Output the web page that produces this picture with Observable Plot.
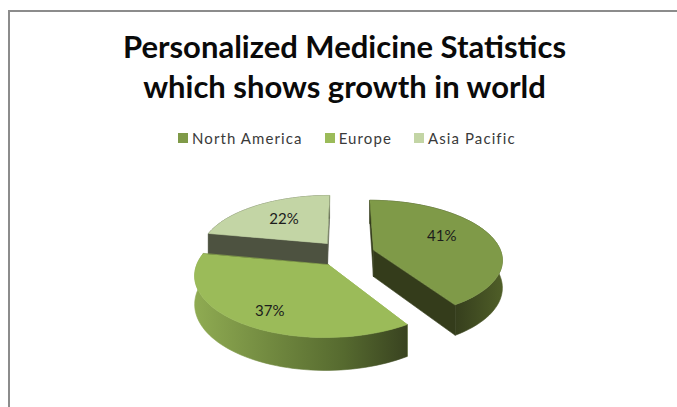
<!DOCTYPE html>
<html><head><meta charset="utf-8">
<script src="https://cdn.jsdelivr.net/npm/d3@7"></script>
<script src="https://cdn.jsdelivr.net/npm/@observablehq/plot@0.6"></script>
<style>
html,body{margin:0;padding:0;background:#fff;overflow:hidden;width:677px;height:407px}
#page{position:relative;width:677px;height:407px;overflow:hidden}
#frame{position:absolute;left:8px;top:10px;right:-4px;bottom:-4px;border-top:2px solid #8c8c8c;border-left:2px solid #8c8c8c;pointer-events:none}
#title{position:absolute;left:0;top:26px;width:689px;text-align:center;font:700 31px/40px Lato,sans-serif;color:#0a0a0a;white-space:pre}
#legend{position:absolute;left:178px;top:127px}
#chart{position:absolute;left:0;top:160px}
.lg-swatches-wrap{min-height:0 !important;margin:0 !important;flex-wrap:nowrap !important;font:15px/22px Lato,sans-serif !important;color:#3a3a3a;letter-spacing:1.1px;white-space:nowrap}
.lg-swatch{margin-right:22px !important}
.lg-swatch svg{margin-right:4px !important}
</style></head><body>
<div id="page"><div id="chart"></div><div id="title"></div><div id="legend"></div><div id="frame"></div></div>
<script>
const titleLines = ["Personalized Medicine Statistics", "which shows growth in world"];
const regions = ["North America", "Europe", "Asia Pacific"];
const shares = [41, 37, 22];
const topColors = ["#7f9a48", "#9bbb59", "#c3d5a5"];
const wallColors = ["#343c1b", "#9bbb59", "#4d5240"];

// layout of the tilted pie, in pixels of the SVG
const W = 677, H = 247;
const cx = 345, cy = 93, rx = 128, ry = 58, persp = 0.15, depth = 27, explode = 0.23, startAngle = 0;
const labelNudge = [[0, -5], [-11, 14], [-1, -1]];

const rad = d3.pie().sort(null).value(d => d).startAngle(startAngle * Math.PI / 180)
  .endAngle((startAngle + 360) * Math.PI / 180)(shares);

function project(u, v, down = 0) {
  const s = 1 / (1 - persp * v);
  return {x: cx + rx * u * s, y: cy + ry * v * s + down * s};
}
const slices = rad.map((a, i) => {
  const mid = (a.startAngle + a.endAngle) / 2;
  const ou = explode * Math.sin(mid), ov = -explode * Math.cos(mid);
  const pt = (t, r, down) => project(ou + r * Math.sin(t), ov - r * Math.cos(t), down);
  const angles = d3.range(0, 61).map(k => a.startAngle + (a.endAngle - a.startAngle) * k / 60);
  const top = [pt(0, 0, 0), ...angles.map(t => pt(t, 1, 0))];
  const outer = [...angles.map(t => pt(t, 1, 0)), ...angles.slice().reverse().map(t => pt(t, 1, depth))];
  const wallA = [pt(0, 0, 0), pt(a.startAngle, 1, 0), pt(a.startAngle, 1, depth), pt(0, 0, depth)];
  const wallB = [pt(0, 0, 0), pt(a.endAngle, 1, 0), pt(a.endAngle, 1, depth), pt(0, 0, depth)];
  const lp = pt(mid, 0.58, 0);
  return {i, top, outer, wallA, wallB, label: {x: lp.x + labelNudge[i][0], y: lp.y + labelNudge[i][1], text: shares[i] + "%"}};
});

const defs = () => {
  const s = d3.create("svg:defs");
  const g = (id, stops) => {
    const lg = s.append("linearGradient").attr("id", id);
    stops.forEach(([o, c]) => lg.append("stop").attr("offset", o).attr("stop-color", c));
  };
  g("wall0", [[0, "#333b1b"], [0.55, "#2f361a"], [1, "#4f5e28"]]);
  g("wall1", [[0, "#8fab52"], [0.35, "#728a40"], [0.7, "#566a2f"], [1, "#394320"]]);
  g("wall2", [[0, "#4d5240"], [1, "#4d5240"]]);
  return s.node();
};

const poly = (pts, fill) => Plot.line(pts, {x: "x", y: "y", fill, stroke: fill, strokeWidth: 0.6, curve: "linear-closed"});
const marks = [defs];
for (const i of [2, 1, 0]) {
  const s = slices[i];
  marks.push(poly(s.wallA, wallColors[i]));
  marks.push(poly(s.wallB, wallColors[i] === "#9bbb59" ? "#394320" : wallColors[i]));
  marks.push(poly(s.outer, `url(#wall${i})`));
  marks.push(Plot.line(s.top, {x: "x", y: "y", fill: () => regions[i], stroke: () => regions[i], strokeWidth: 0.6, curve: "linear-closed"}));
}
slices.forEach(s => marks.push(Plot.text([s.label], {x: "x", y: "y", text: "text", fontSize: 15, fontFamily: "Lato, sans-serif", fill: "#1c1c1c"})));

const colorOpts = {domain: regions, range: topColors};
const chart = Plot.plot({
  width: W, height: H, margin: 0,
  x: {domain: [0, W], range: [0, W], axis: null},
  y: {domain: [0, H], range: [0, H], axis: null},
  color: colorOpts,
  marks
});
document.getElementById("chart").append(chart);
document.getElementById("title").textContent = titleLines.join("\n");
document.getElementById("legend").append(Plot.legend({color: {...colorOpts, type: "categorical"}, legend: "swatches", swatchSize: 10, className: "lg"}));
</script>
</body></html>
